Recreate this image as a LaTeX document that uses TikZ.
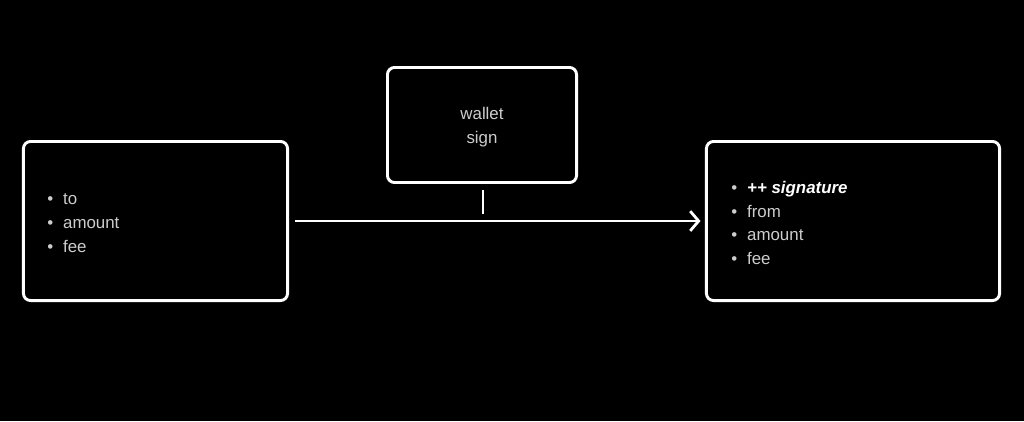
\documentclass[tikz,border=0pt]{standalone}
\usepackage{fontspec}
\setmainfont{Liberation Sans}
\usetikzlibrary{arrows.meta}

\definecolor{txtgray}{RGB}{205,205,205}
\newcommand{\bul}{\makebox[11.3pt][l]{\textbullet}}

\tikzset{
  card/.style={draw=white,line width=2.1pt,rounded corners=5pt,fill=black,inner sep=0pt},
  lst/.style={anchor=west,align=left,inner sep=0pt,text=txtgray,font=\fontsize{12}{17}\selectfont},
  arr/.style={white,line width=2.1pt,-{Straight Barb[length=6pt,width=14pt,line width=2pt]}}
}

\begin{document}
\begin{tikzpicture}[x=0.025cm,y=-0.025cm]
\fill[black] (0,0) rectangle (1024,421);
\useasboundingbox (0,0) rectangle (1024,421);

% boxes
\node[card,minimum width=6.6cm,minimum height=3.975cm] (tx) at (155.5,221) {};
\node[card,minimum width=4.725cm,minimum height=2.875cm] (wallet) at (482,125) {};
\node[card,minimum width=7.325cm,minimum height=3.975cm] (signed) at (853,221) {};

% texts
\node[lst] (txlist) at (47,223) {\bul to\\ \bul amount\\ \bul fee};
\node[align=center,inner sep=0pt,text=txtgray,font=\fontsize{12}{17}\selectfont] (walletlbl) at (482,127) {wallet\\ sign};
\node[lst] (signedlist) at (731,223) {\bul{\color{white}\bfseries\itshape ++ signature}\\ \bul from\\ \bul amount\\ \bul fee};

% arrow and tick
\draw[arr,shorten <=4.2pt,shorten >=3.2pt] (tx) -- (signed);
\coordinate (tickA) at (483,190);
\coordinate (tickB) at (483,214);
\draw[white,line width=2.1pt] (tickA) -- (tickB);
\end{tikzpicture}
\end{document}
